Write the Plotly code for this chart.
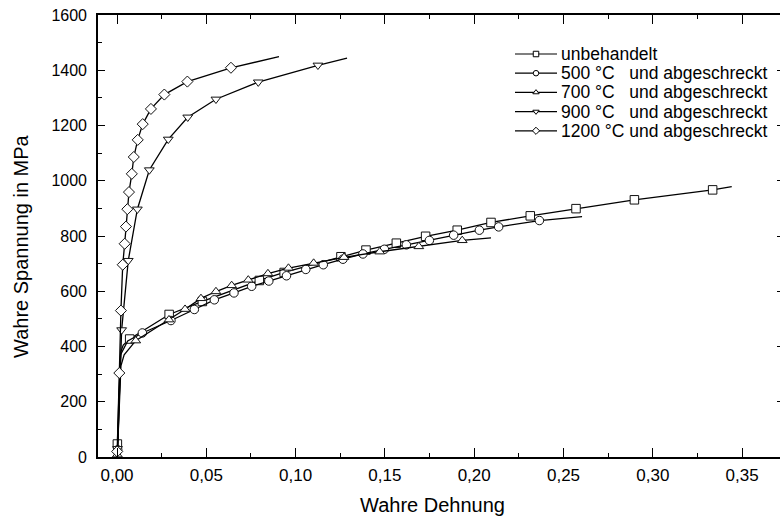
import plotly.graph_objects as go

# ---------------- data ----------------
series_names = [
    "unbehandelt",
    "500 °C   und abgeschreckt",
    "700 °C   und abgeschreckt",
    "900 °C   und abgeschreckt",
    "1200 °C und abgeschreckt",
]

# full drawn curves (strain, true stress in MPa)
unbeh_curve_x = [0, 0.0002, 0.0012, 0.0022, 0.0035, 0.0071, 0.0292, 0.0478, 0.0797, 0.0936, 0.1254, 0.1394,
                 0.1564, 0.1728, 0.1905, 0.2094, 0.2314, 0.2570, 0.2897, 0.3335, 0.3442]
unbeh_curve_y = [0, 47, 250, 382, 405, 427, 516, 563, 639, 668, 725, 749,
                 774, 799, 821, 849, 873, 899, 931, 967, 979]
c500_curve_x = [0, 0.0004, 0.0020, 0.0060, 0.0142, 0.0302, 0.0433, 0.0545, 0.0655, 0.0754, 0.0850, 0.0949,
                0.1057, 0.1155, 0.1265, 0.1377, 0.1497, 0.1620, 0.1749, 0.1885, 0.2029, 0.2137, 0.2365, 0.2604]
c500_curve_y = [0, 26, 370, 420, 449, 494, 534, 569, 594, 618, 637, 656,
                679, 696, 716, 735, 752, 768, 784, 803, 821, 833, 856, 870]
c700_curve_x = [0, 0.0002, 0.0022, 0.0040, 0.0105, 0.0291, 0.0381, 0.0470, 0.0554, 0.0642, 0.0735, 0.0845,
                0.0960, 0.1101, 0.1271, 0.1471, 0.1690, 0.1933, 0.2094]
c700_curve_y = [0, 8, 330, 370, 421, 497, 535, 574, 599, 621, 641, 664,
                684, 702, 723, 743, 762, 784, 793]
c900_curve_x = [0, 0.0003, 0.0026, 0.0063, 0.0114, 0.0181, 0.0287, 0.0396, 0.0554, 0.0791, 0.1125, 0.1288]
c900_curve_y = [0, 30, 460, 711, 897, 1039, 1150, 1230, 1295, 1357, 1418, 1444]
c1200_curve_x = [0, 0.0001, 0.0013, 0.0022, 0.0032, 0.0043, 0.0050, 0.0058, 0.0067, 0.0083, 0.0094, 0.0116,
                 0.0144, 0.0190, 0.0265, 0.0394, 0.0638, 0.0907]
c1200_curve_y = [0, 20, 304, 530, 696, 772, 834, 897, 959, 1025, 1086, 1148,
                 1205, 1260, 1312, 1359, 1409, 1449]

# measured points carrying symbols
unbeh_pts_x = [0.0002, 0.0071, 0.0292, 0.0478, 0.0797, 0.0936, 0.1254, 0.1394, 0.1564, 0.1728, 0.1905, 0.2094,
               0.2314, 0.2570, 0.2897, 0.3335]
unbeh_pts_y = [47, 427, 516, 563, 639, 668, 725, 749, 774, 799, 821, 849, 873, 899, 931, 967]
c500_pts_x = [0.0004, 0.0142, 0.0302, 0.0433, 0.0545, 0.0655, 0.0754, 0.0850, 0.0949, 0.1057, 0.1155, 0.1265,
              0.1377, 0.1497, 0.1620, 0.1749, 0.1885, 0.2029, 0.2137, 0.2365]
c500_pts_y = [26, 449, 494, 534, 569, 594, 618, 637, 656, 679, 696, 716, 735, 752, 768, 784, 803, 821, 833, 856]
c700_pts_x = [0.0002, 0.0105, 0.0291, 0.0381, 0.0470, 0.0554, 0.0642, 0.0735, 0.0845, 0.0960, 0.1101, 0.1271,
              0.1471, 0.1690, 0.1933]
c700_pts_y = [8, 421, 497, 535, 574, 599, 621, 641, 664, 684, 702, 723, 743, 762, 784]
c900_pts_x = [0.0003, 0.0026, 0.0063, 0.0114, 0.0181, 0.0287, 0.0396, 0.0554, 0.0791, 0.1125]
c900_pts_y = [30, 460, 711, 897, 1039, 1150, 1230, 1295, 1357, 1418]
c1200_pts_x = [0.0001, 0.0013, 0.0022, 0.0032, 0.0043, 0.0050, 0.0058, 0.0067, 0.0083, 0.0094, 0.0116, 0.0144,
               0.0190, 0.0265, 0.0394, 0.0638]
c1200_pts_y = [20, 304, 530, 696, 772, 834, 897, 959, 1025, 1086, 1148, 1205, 1260, 1312, 1359, 1409]

y_tick_vals = [0, 200, 400, 600, 800, 1000, 1200, 1400, 1600]
x_tick_vals = [0.00, 0.05, 0.10, 0.15, 0.20, 0.25, 0.30, 0.35]

curves = [
    (unbeh_curve_x, unbeh_curve_y, unbeh_pts_x, unbeh_pts_y),
    (c500_curve_x, c500_curve_y, c500_pts_x, c500_pts_y),
    (c700_curve_x, c700_curve_y, c700_pts_x, c700_pts_y),
    (c900_curve_x, c900_curve_y, c900_pts_x, c900_pts_y),
    (c1200_curve_x, c1200_curve_y, c1200_pts_x, c1200_pts_y),
]

# ---------------- layout / style ----------------
W, H = 780, 520
L, T, B = 98, 15, 63
PW, PH = W - L, H - T - B
X0_PX = 117          # pixel position of strain 0
PX_PER_UNIT = 1786   # pixels per unit strain
FONT = "Liberation Sans, Arial, sans-serif"
symbols = ["square", "circle", "triangle-up", "triangle-down", "diamond"]


def px2x(px):
    return (px - L) / PW


def py2y(py):
    return (H - B - py) / PH


fig = go.Figure()
for (cx, cy, mx, my), sym in zip(curves, symbols):
    fig.add_trace(go.Scatter(x=cx, y=cy, mode="lines", line=dict(color="black", width=1.3),
                             showlegend=False, hoverinfo="skip"))
    fig.add_trace(go.Scatter(x=mx, y=my, mode="markers",
                             marker=dict(symbol=sym, size=8.5, color="white",
                                         line=dict(color="#111111", width=1)),
                             showlegend=False))

# custom legend on an invisible overlay axis pair
LEG_X0, LEG_X1, LEG_TEXT_X = 515, 557, 559
LEG_TOP, LEG_STEP = 54, 19.2
for i, (name, sym) in enumerate(zip(series_names, symbols)):
    yy = py2y(LEG_TOP + i * LEG_STEP)
    fig.add_trace(go.Scatter(x=[px2x(LEG_X0), px2x(LEG_X1)], y=[yy, yy], mode="lines",
                             line=dict(color="black", width=1.2), xaxis="x2", yaxis="y3",
                             showlegend=False, hoverinfo="skip"))
    fig.add_trace(go.Scatter(x=[px2x((LEG_X0 + LEG_X1) / 2)], y=[yy], mode="markers",
                             marker=dict(symbol=sym, size=5.5, color="white",
                                         line=dict(color="black", width=1)),
                             xaxis="x2", yaxis="y3", showlegend=False, hoverinfo="skip"))
    fig.add_annotation(x=px2x(LEG_TEXT_X), y=yy, xref="paper", yref="paper", text=name,
                       showarrow=False, xanchor="left", yanchor="middle",
                       font=dict(family=FONT, size=17.5, color="black"))

# axis titles
fig.add_annotation(x=px2x(432), y=py2y(505), xref="paper", yref="paper", text="Wahre Dehnung",
                   showarrow=False, xanchor="center", yanchor="middle",
                   font=dict(family=FONT, size=20, color="black"))
fig.add_annotation(x=px2x(21), y=py2y(246), xref="paper", yref="paper", text="Wahre Spannung in MPa",
                   showarrow=False, xanchor="center", yanchor="middle", textangle=-90,
                   font=dict(family=FONT, size=20, color="black"))

x_lo = (L - X0_PX) / PX_PER_UNIT
x_hi = (W - X0_PX) / PX_PER_UNIT

fig.update_layout(
    width=W, height=H, autosize=False,
    margin=dict(l=L, r=0, t=T, b=B, pad=0),
    paper_bgcolor="white", plot_bgcolor="white",
    separators=", ",
    font=dict(family=FONT, color="black"),
    showlegend=False,
    xaxis=dict(range=[x_lo, x_hi], tickvals=x_tick_vals, tickformat=".2f",
               ticks="inside", ticklen=9, tickwidth=1.3, tickcolor="black",
               minor=dict(ticks="inside", ticklen=4, dtick=0.025, tick0=0, tickcolor="black", tickwidth=1.3),
               showline=True, linecolor="black", linewidth=1.6, mirror="ticks",
               showgrid=False, zeroline=False,
               tickfont=dict(family=FONT, size=17, color="black"), ticklabelstandoff=2),
    yaxis=dict(range=[0, 1600], tickvals=y_tick_vals,
               ticks="inside", ticklen=7, tickwidth=1.3, tickcolor="black",
               minor=dict(ticks="inside", ticklen=4, dtick=100, tick0=0, tickcolor="black", tickwidth=1.3),
               showline=True, linecolor="black", linewidth=1.6, mirror=False,
               showgrid=False, zeroline=False,
               tickfont=dict(family=FONT, size=16, color="black"), ticklabelstandoff=6),
    yaxis2=dict(range=[0, 1600], overlaying="y", side="right", anchor="x", tickvals=y_tick_vals,
                ticks="inside", ticklen=3, tickwidth=1.3, tickcolor="black", showticklabels=False,
                showline=False, showgrid=False, zeroline=False),
    xaxis2=dict(range=[0, 1], overlaying="x", anchor="y3", visible=False, fixedrange=True),
    yaxis3=dict(range=[0, 1], overlaying="y", anchor="x2", visible=False, fixedrange=True),
)
# make yaxis2 appear by attaching an invisible trace
fig.add_trace(go.Scatter(x=[None], y=[None], yaxis="y2", showlegend=False, hoverinfo="skip"))

fig.write_html("out.html",
               config={"displayModeBar": False},
               post_script="document.body.style.margin='0';document.body.style.overflow='hidden';")
